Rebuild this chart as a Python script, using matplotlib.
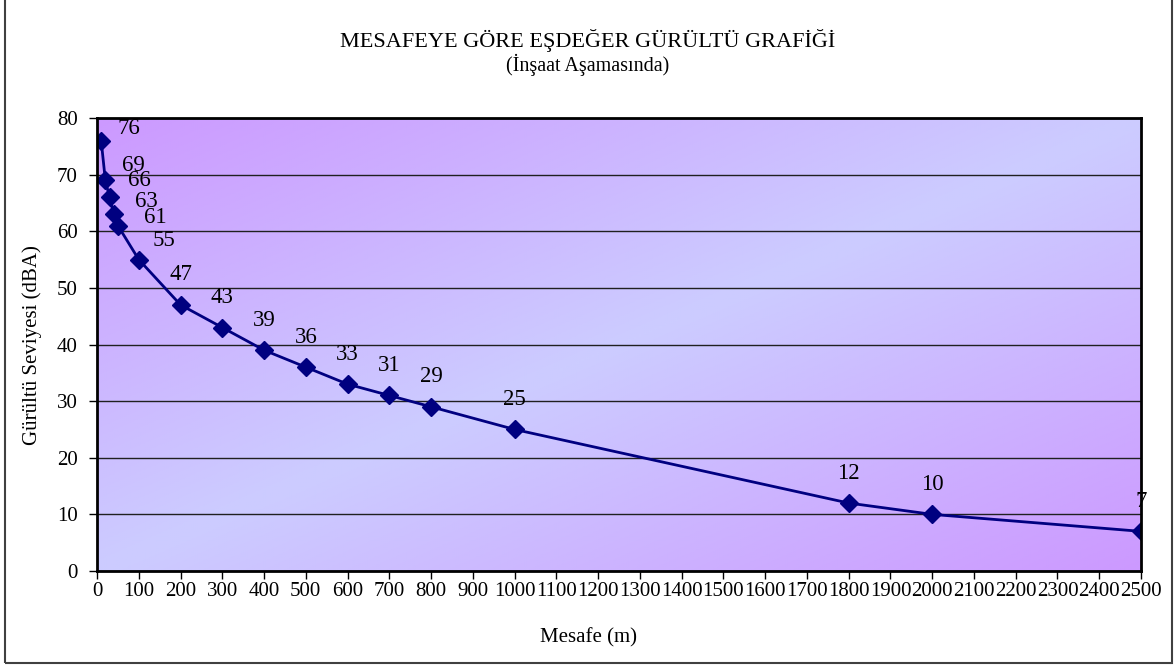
import numpy as np
import matplotlib
matplotlib.use('Agg')
import matplotlib.pyplot as plt
from matplotlib.colors import LinearSegmentedColormap
from matplotlib.patches import Rectangle

plt.rcParams['font.family'] = ['Liberation Serif', 'DejaVu Serif']

# data
mesafe = [10, 20, 30, 40, 50, 100, 200, 300, 400, 500, 600, 700, 800, 1000, 1800, 2000, 2500]
gurultu = [76, 69, 66, 63, 61, 55, 47, 43, 39, 36, 33, 31, 29, 25, 12, 10, 7]
x_ticks = list(range(0, 2501, 100))
y_ticks = list(range(0, 81, 10))

# label offsets in pixels (first labels were moved by hand in the original)
label_offsets = [(28, 12), (28, 15), (30, 17), (33, 13), (37, 8), (25, 19)]

fig = plt.figure(figsize=(11.76, 6.71), dpi=100, facecolor='w')
ax = fig.add_axes([97 / 1176, 100 / 671, 1044 / 1176, 453 / 671])

# diagonal gradient background
nx, ny = 400, 200
gx, gy = np.meshgrid(np.linspace(0, 1, nx), np.linspace(1, 0, ny))
grad = np.abs(gx - gy)
cmap = LinearSegmentedColormap.from_list('bg', ['#CCCCFF', '#CC99FF'])
ax.imshow(grad, cmap=cmap, extent=[0, 1, 0, 1], transform=ax.transAxes,
          aspect='auto', zorder=0, interpolation='bilinear')

ax.set_xlim(0, 2500)
ax.set_ylim(0, 80)
ax.set_xticks(x_ticks)
ax.set_yticks(y_ticks)
ax.tick_params(axis='both', labelsize=15, direction='out', length=6, width=1)
ax.tick_params(axis='x', pad=2)
ax.tick_params(axis='y', pad=8)
ax.yaxis.grid(True, color='#202020', linewidth=1, zorder=1)
ax.set_axisbelow(False)
for s in ax.spines.values():
    s.set_linewidth(2)
    s.set_color('black')
    s.set_zorder(5)

ax.plot(mesafe, gurultu, color='#000080', linewidth=2, marker='D', markersize=9, zorder=3)

for i, (x, y) in enumerate(zip(mesafe, gurultu)):
    if i < len(label_offsets):
        off = label_offsets[i]
    else:
        off = (0, 30)
    ax.annotate(str(y), (x, y), textcoords='offset pixels', xytext=off,
                ha='center', va='center', fontsize=16.5, zorder=4, annotation_clip=False)

fig.text(588 / 1176, 1 - 40 / 671, 'MESAFEYE GÖRE EŞDEĞER GÜRÜLTÜ GRAFİĞİ', ha='center', va='center', fontsize=16)
fig.text(588 / 1176, 1 - 65 / 671, '(İnşaat Aşamasında)', ha='center', va='center', fontsize=14.5)
fig.text(32 / 1176, 1 - 345 / 671, 'Gürültü Seviyesi (dBA)', rotation=90, ha='center', va='center', fontsize=15)
fig.text(588 / 1176, 1 - 638 / 671, 'Mesafe (m)', ha='center', va='center', fontsize=15)

# outer chart border
fig.patches.append(Rectangle((5 / 1176, 8 / 671), 1167 / 1176, 670 / 671, transform=fig.transFigure,
                             fill=False, edgecolor='#404040', linewidth=1.5))

fig.savefig('out.png', dpi=100)
